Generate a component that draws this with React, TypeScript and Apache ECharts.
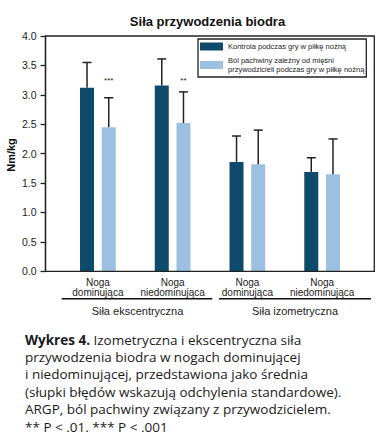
import React, { useEffect, useRef } from "react";
import * as echarts from "echarts";

const categories = ["Noga\ndominująca", "Noga\nniedominująca", "Noga\ndominująca", "Noga\nniedominująca"];
const controlMean = [3.12, 3.16, 1.86, 1.69];
const controlSD = [0.43, 0.45, 0.44, 0.24];
const argpMean = [2.45, 2.52, 1.82, 1.65];
const argpSD = [0.5, 0.53, 0.58, 0.6];
const significance = ["***", "**", "", ""];
const sigLevel = 3.25;
const seriesNames = [
  "Kontrola podczas gry w piłkę nożną",
  "Ból pachwiny zależny od mięśni\nprzywodzicieli podczas gry w piłkę nożną",
];
const groupLabels = ["Siła ekscentryczna", "Siła izometryczna"];
const title = "Siła przywodzenia biodra";
const yName = "Nm/kg";
const captionBold = "Wykres 4.";
const captionLines = [
  " Izometryczna i ekscentryczna siła",
  "przywodzenia biodra w nogach dominującej",
  "i niedominującej, przedstawiona jako średnia",
  "(słupki błędów wskazują odchylenia standardowe).",
  "ARGP, ból pachwiny związany z przywodzicielem.",
  "** P < .01. *** P < .001",
];

const DARK = "#0d4a6c";
const LIGHT = "#9cc0e2";
const INK = "#222222";
const FONT = "'Liberation Sans', Arial, sans-serif";
const CAPTION_FONT = "'Open Sans', 'Noto Sans', sans-serif";
const CAPTION_SIZE = 13.5;

const BAR_W = 14;
const BAR_GAP = 7.7;
const OFFSET = (BAR_W + BAR_GAP) / 2;
const CAP_HALF = 4.5;

function errorSeries(name: string, mean: number[], sd: number[], dir: number) {
  return {
    type: "custom",
    name: name + "_err",
    z: 5,
    silent: true,
    data: mean.map((m, i) => [i, m, sd[i]]),
    encode: { x: 0, y: 1 },
    renderItem: (params: any, api: any) => {
      const i = api.value(0);
      const m = api.value(1);
      const s = api.value(2);
      const base = api.coord([i, m]);
      const top = api.coord([i, m + s]);
      const x = base[0] + dir * OFFSET;
      const st = { stroke: INK, lineWidth: 1.5 };
      return {
        type: "group",
        children: [
          { type: "line", shape: { x1: x, y1: base[1], x2: x, y2: top[1] }, style: st },
          { type: "line", shape: { x1: x - CAP_HALF, y1: top[1], x2: x + CAP_HALF, y2: top[1] }, style: st },
        ],
      };
    },
  };
}

export default function App() {
  const ref = useRef<HTMLDivElement>(null);
  useEffect(() => {
    if (!ref.current) return;
    const chart = echarts.init(ref.current, null, { renderer: "svg" });
    const captionGraphics = captionLines.map((line, k) => ({
      type: "text",
      left: 25,
      top: 332.5 + k * 17.4,
      style: {
        text: k === 0 ? `{b|${captionBold}}{r|${line}}` : line,
        font: `${CAPTION_SIZE}px ${CAPTION_FONT}`,
        fill: "#1a1a1a",
        rich: {
          b: { fontFamily: CAPTION_FONT, fontSize: CAPTION_SIZE, fontWeight: "bold", fill: "#1a1a1a" },
          r: { fontFamily: CAPTION_FONT, fontSize: CAPTION_SIZE, fill: "#1a1a1a" },
        },
      },
    }));
    chart.setOption({
      animation: false,
      textStyle: { fontFamily: FONT },
      grid: { left: 60.5, width: 299, top: 36, height: 235.3 },
      legend: {
        left: 198,
        top: 39,
        orient: "vertical",
        itemWidth: 23,
        itemHeight: 8,
        itemGap: 5,
        padding: [3, 2, 3, 2],
        borderColor: INK,
        borderWidth: 1.3,
        icon: "rect",
        data: seriesNames,
        textStyle: { fontSize: 7.5, lineHeight: 9, color: INK, fontFamily: FONT },
      },
      xAxis: {
        type: "category",
        data: categories,
        axisLine: { show: false },
        axisTick: { show: false },
        axisLabel: { fontSize: 10, lineHeight: 10, color: INK, margin: 6, interval: 0 },
      },
      yAxis: {
        type: "value",
        min: 0,
        max: 4,
        interval: 0.5,
        offset: 15,
        axisLine: { show: true, lineStyle: { color: INK, width: 1.3 } },
        axisTick: { show: true, length: 5, lineStyle: { color: INK, width: 1.3 } },
        splitLine: { show: false },
        axisLabel: { fontSize: 10.5, color: INK, margin: 9, formatter: (v: number) => v.toFixed(1) },
      },
      series: [
        {
          type: "bar",
          name: seriesNames[0],
          data: controlMean,
          barWidth: BAR_W,
          barGap: `${(BAR_GAP / BAR_W) * 100}%`,
          itemStyle: { color: DARK },
        },
        {
          type: "bar",
          name: seriesNames[1],
          data: argpMean,
          barWidth: BAR_W,
          itemStyle: { color: LIGHT },
        },
        errorSeries("c", controlMean, controlSD, -1),
        errorSeries("a", argpMean, argpSD, 1),
        {
          type: "custom",
          name: "sig",
          silent: true,
          z: 6,
          data: significance.map((_, i) => [i, sigLevel]),
          encode: { x: 0, y: 1 },
          renderItem: (params: any, api: any) => {
            const p = api.coord([api.value(0), api.value(1)]);
            return {
              type: "text",
              x: p[0] + OFFSET,
              y: p[1],
              style: {
                text: significance[params.dataIndex],
                font: `8px ${FONT}`,
                fill: INK,
                align: "center",
                verticalAlign: "middle",
              },
            };
          },
        },
      ],
      graphic: [
        {
          type: "rect",
          shape: { x: 45.5, y: 36, width: 328.8, height: 235.3 },
          style: { fill: "none", stroke: INK, lineWidth: 1.3 },
          silent: true,
          z: 10,
        },
        {
          type: "text",
          x: 207.5,
          y: 21.7,
          style: { text: title, font: `bold 13px ${FONT}`, fill: "#111", align: "center", verticalAlign: "middle" },
        },
        {
          type: "text",
          x: 11.3,
          y: 155,
          rotation: Math.PI / 2,
          style: { text: yName, font: `bold 11px ${FONT}`, fill: "#111", align: "center", verticalAlign: "middle" },
        },
        {
          type: "line",
          shape: { x1: 61.7, y1: 298.7, x2: 212.3, y2: 298.7 },
          style: { stroke: "#111", lineWidth: 1.5 },
        },
        {
          type: "line",
          shape: { x1: 219, y1: 298.7, x2: 371, y2: 298.7 },
          style: { stroke: "#111", lineWidth: 1.5 },
        },
        {
          type: "text",
          x: 137.5,
          y: 310.7,
          style: { text: groupLabels[0], font: `11px ${FONT}`, fill: INK, align: "center", verticalAlign: "middle" },
        },
        {
          type: "text",
          x: 295,
          y: 310.7,
          style: { text: groupLabels[1], font: `11px ${FONT}`, fill: INK, align: "center", verticalAlign: "middle" },
        },
        ...captionGraphics,
      ],
    });
    return () => chart.dispose();
  }, []);
  return (
    <div
      ref={ref}
      style={{ position: "fixed", left: 0, top: 0, width: 388, height: 439, background: "#fff" }}
    />
  );
}
